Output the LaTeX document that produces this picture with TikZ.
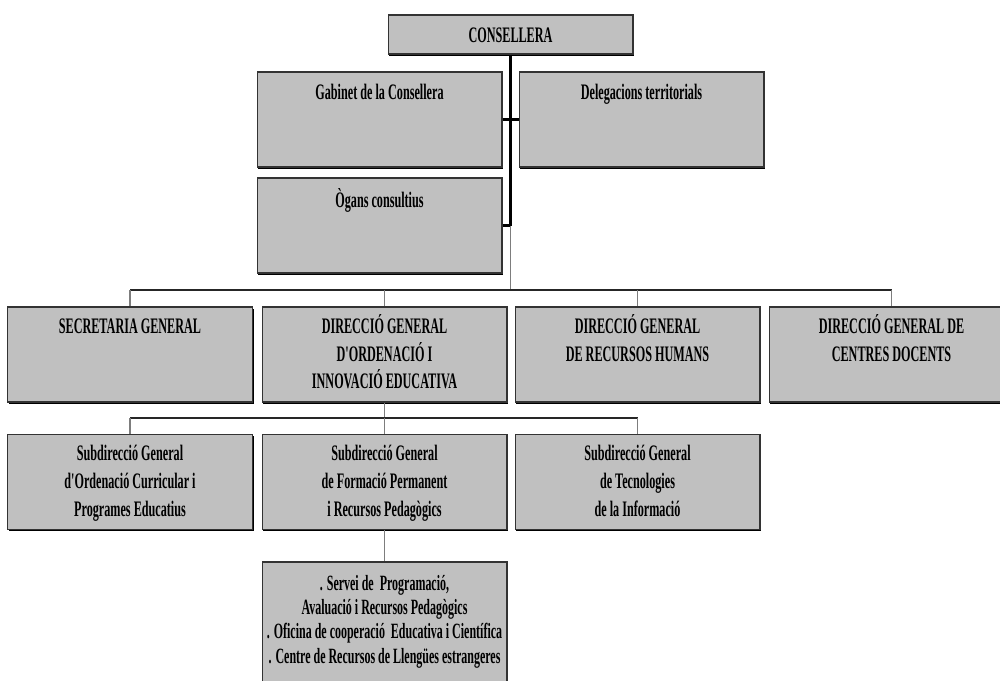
\documentclass[tikz,border=0pt]{standalone}
\usepackage{fontspec}
\newfontfamily\orgfont[FakeStretch=0.55]{Liberation Serif Bold}
\usetikzlibrary{shadows}
\definecolor{boxgray}{RGB}{192,192,192}
\definecolor{linkgray}{RGB}{125,125,125}
\newcommand{\orglines}[1]{\begin{tabular}[t]{@{}c@{}}#1\end{tabular}}
\tikzset{
  unit/.style={draw=black!80, fill=boxgray, line width=0.6pt, inner sep=0pt,
    minimum width=4.9cm, minimum height=1.9cm,
    drop shadow={shadow xshift=0.6pt, shadow yshift=-0.9pt, opacity=1, fill=black}},
  boxtext/.style={anchor=base, inner sep=0pt, font=\orgfont\fontsize{12.6}{15.8}\selectfont},
  smalltext/.style={boxtext, font=\orgfont\fontsize{12.4}{13.8}\selectfont},
  trunk/.style={line width=1.2pt, black},
  busline/.style={line width=0.8pt, black!85},
  link/.style={line width=0.7pt, linkgray}
}
\begin{document}
\begin{tikzpicture}[x=0.02cm, y=-0.02cm]
\useasboundingbox (0,0) rectangle (1000,680);
\clip (0,0) rectangle (1000,680);

\node[unit, minimum height=0.78cm, label={[boxtext, yshift=-16pt]north:CONSELLERA}] (cons) at (510.5,34.5) {};
\node[unit, label={[boxtext, yshift=-16pt]north:Gabinet de la Consellera}] (gab) at (379.5,119.5) {};
\node[unit, label={[boxtext, yshift=-16pt]north:Delegacions territorials}] (del) at (641.5,119.5) {};
\node[unit, label={[boxtext, yshift=-17pt]north:Ògans consultius}] (org) at (379.5,225.5) {};

\node[unit, label={[boxtext, yshift=-15.3pt]north:SECRETARIA GENERAL}] (sg) at (130,354.5) {};
\node[unit, label={[boxtext, yshift=-15.3pt]north:\orglines{DIRECCIÓ GENERAL\\D'ORDENACIÓ I\\INNOVACIÓ EDUCATIVA}}] (dgoie) at (384.5,354.5) {};
\node[unit, label={[boxtext, yshift=-15.3pt]north:\orglines{DIRECCIÓ GENERAL\\DE RECURSOS HUMANS}}] (dgrh) at (637.5,354.5) {};
\node[unit, label={[boxtext, yshift=-15.3pt]north:\orglines{DIRECCIÓ GENERAL DE\\CENTRES DOCENTS}}] (dgcd) at (891.5,354.5) {};

\node[unit, label={[boxtext, yshift=-15.3pt]north:\orglines{Subdirecció General\\d'Ordenació Curricular i\\Programes Educatius}}] (sub1) at (130,482) {};
\node[unit, label={[boxtext, yshift=-15.3pt]north:\orglines{Subdirecció General\\de Formació Permanent\\i Recursos Pedagògics}}] (sub2) at (384.5,482) {};
\node[unit, label={[boxtext, yshift=-15.3pt]north:\orglines{Subdirecció General\\de Tecnologies\\de la Informació}}] (sub3) at (637.5,482) {};

\node[unit, minimum height=2.6cm, label={[smalltext, yshift=-16.4pt]north:\orglines{. Servei de~ Programació,\\Avaluació i Recursos Pedagògics\\. Oficina de cooperació~ Educativa i Científica\\. Centre de Recursos de Llengües estrangeres}}] (serv) at (384.5,627) {};

\draw[trunk] (cons.south) -- (cons.south |- org.east);
\draw[trunk] (gab.east) -- (del.west);
\draw[trunk] (org.east) -- (org.east -| cons.south);
\coordinate (bus) at (510.5,290);
\draw[link] (org.east -| cons.south) -- (bus);
\draw[busline] (sg.north |- bus) -- (dgcd.north |- bus);
\foreach \n in {sg,dgoie,dgrh,dgcd} \draw[link] (\n.north |- bus) -- (\n.north);

\coordinate (sbus) at (dgoie.south |- 0,418);
\draw[link] (dgoie.south) -- (sbus);
\draw[busline] (sub1.north |- sbus) -- (sub3.north |- sbus);
\foreach \n in {sub1,sub2,sub3} \draw[link] (\n.north |- sbus) -- (\n.north);
\draw[link] (sub2.south) -- (serv.north);

\end{tikzpicture}
\end{document}
